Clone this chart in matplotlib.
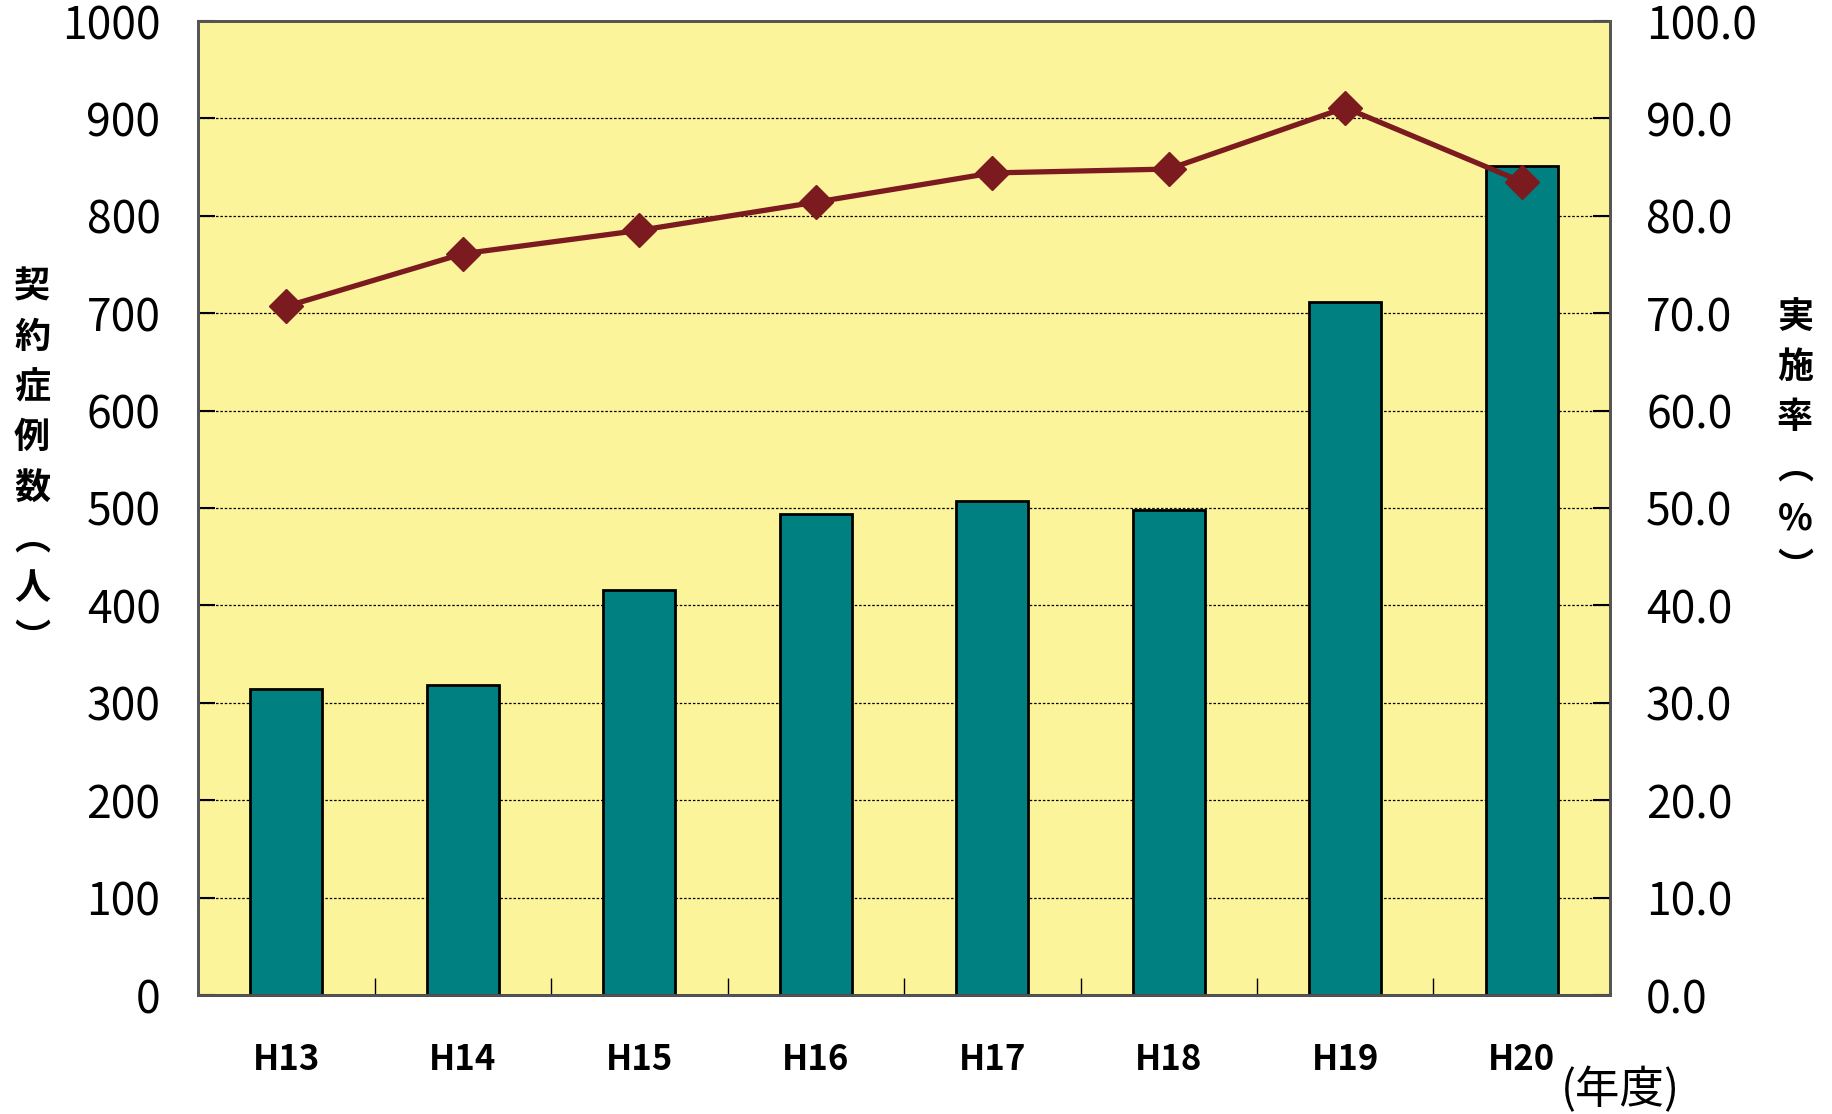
import matplotlib
matplotlib.use("Agg")
import matplotlib.pyplot as plt
import numpy as np

plt.rcParams['font.family'] = ['Noto Sans CJK JP', 'DejaVu Sans']

years = ["H13", "H14", "H15", "H16", "H17", "H18", "H19", "H20"]
cases = [314, 318, 416, 494, 507, 498, 711, 851]
rate = [70.7, 76.1, 78.5, 81.4, 84.4, 84.8, 91.1, 83.5]
left_ticks = [0, 100, 200, 300, 400, 500, 600, 700, 800, 900, 1000]
right_ticks = [0, 10, 20, 30, 40, 50, 60, 70, 80, 90, 100]

W, H = 1832, 1114
fig = plt.figure(figsize=(W/100, H/100), dpi=100)
L, R, T, B = 198, 1610, 21, 995
ax = fig.add_axes([L/W, 1-B/H, (R-L)/W, (B-T)/H])
ax.set_facecolor('#FCF49B')
x = np.arange(len(years))
ax.bar(x, cases, width=0.41, color='#008080', edgecolor='black', linewidth=2, zorder=3)
ax.set_xlim(-0.5, len(years)-0.5)
ax.set_ylim(0, 1000)
ax.set_yticks(left_ticks)
ax.set_yticklabels([str(v) for v in left_ticks], fontsize=32)
ax.yaxis.grid(True, color='black', linestyle=(0, (2, 1.5)), linewidth=0.9, zorder=1)
ax.set_axisbelow(True)
ax.tick_params(axis='y', direction='in', length=12, width=1.5, pad=27)
ax.set_xticks(np.arange(-0.5, len(years), 1.0), minor=False)
ax.set_xticklabels([])
ax.tick_params(axis='x', direction='in', length=12, width=1)
for i, yl in enumerate(years):
    ax.text(i, -0.066, yl, transform=ax.get_xaxis_transform(), ha='center', va='center',
            fontsize=25, fontweight='bold')
for s in ax.spines.values():
    s.set_color('#555555')
    s.set_linewidth(2)
ax.spines['bottom'].set_color('black')

ax2 = ax.twinx()
ax2.set_ylim(0, 100)
ax2.set_yticks(right_ticks)
ax2.set_yticklabels([f"{v:.1f}" for v in right_ticks], fontsize=32)
ax2.tick_params(axis='y', direction='in', length=12, width=1.5, pad=26)
ax2.plot(x, rate, color='#7B1A1F', linewidth=3.8, marker='D', markersize=17, zorder=5)
for s in ax2.spines.values():
    s.set_color('#555555')
    s.set_linewidth(2)

fig.text(32/W, 1-463/H, "\n".join("契約症例数︵人︶"), ha='center', va='center',
         fontsize=26, fontweight='bold', linespacing=1.46)
fig.text(1795/W, 1-443/H, "\n".join("実施率︵%︶"), ha='center', va='center',
         fontsize=26, fontweight='bold', linespacing=1.46)
fig.text(1620/W, 1-1090/H, "(年度)", ha='center', va='center', fontsize=32)

fig.savefig("out.png", dpi=100)
